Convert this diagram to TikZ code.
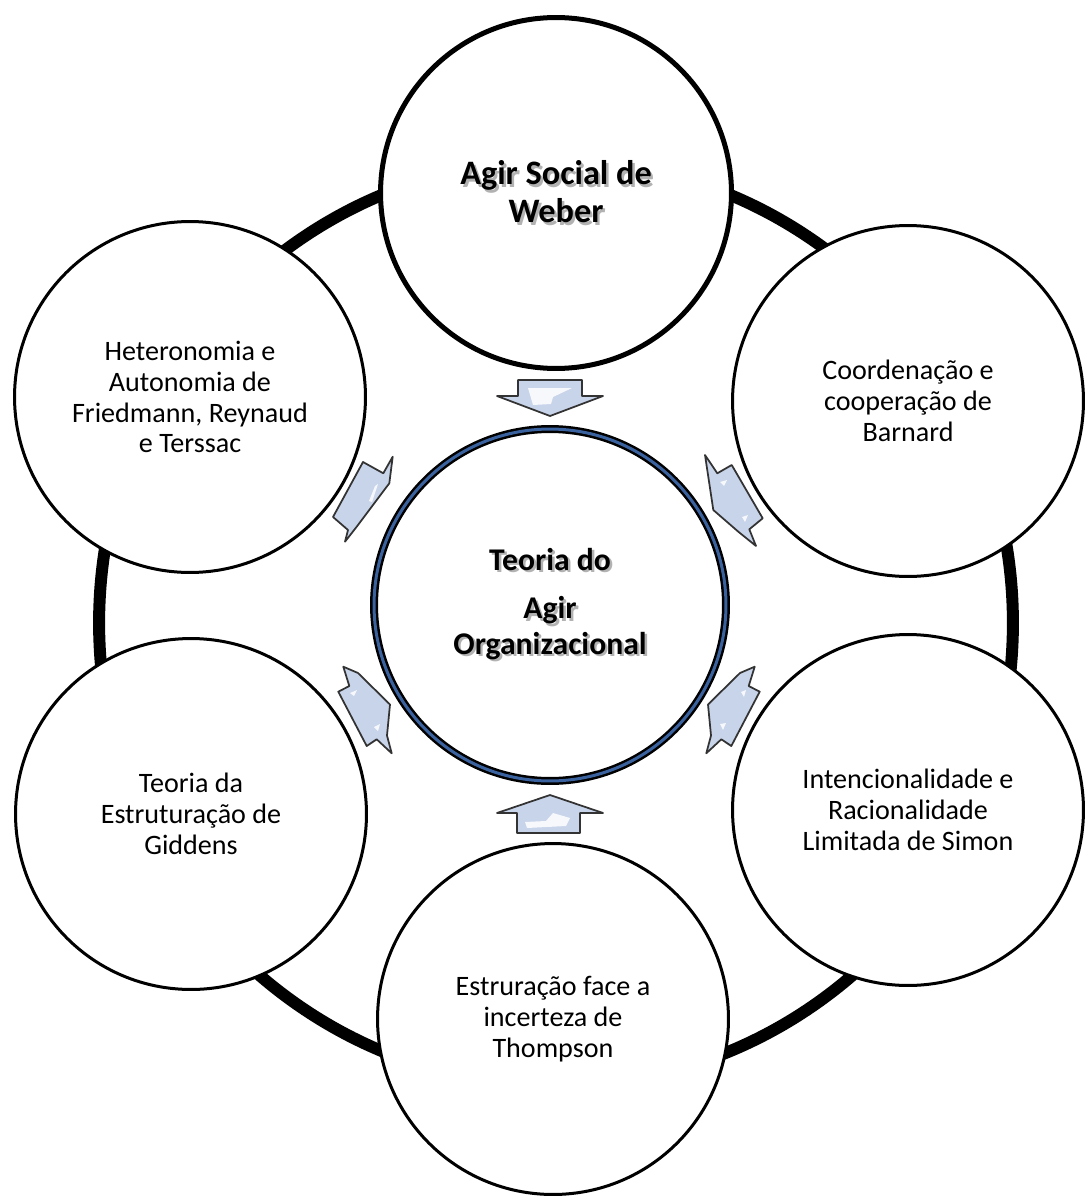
\documentclass[tikz,border=0pt]{standalone}
\usepackage{fontspec}
\setmainfont{Carlito}
\definecolor{arrowblue}{RGB}{200,212,234}
\definecolor{rimblue}{RGB}{58,98,158}
\tikzset{
  theory/.style={circle, draw=black, line width=0.06cm, fill=white,
    minimum size=7.02cm, inner sep=0pt, align=center,
    font=\fontsize{16}{17.6}\selectfont},
  flowarrow/.style={draw=black!80, line width=0.035cm, fill=arrowblue,
    line join=round},
  gloss/.style={fill=white, draw=none, opacity=0.85},
}
\newcommand{\shadowtext}[1]{\rlap{\hspace{1.4pt}\raisebox{-1.4pt}{\textcolor{black!30}{#1}}}#1}
\begin{document}
\begin{tikzpicture}[x=0.02cm, y=-0.02cm]
\useasboundingbox (0,0) rectangle (1085,1196);

% Drawing the outer ring
\draw [line width=0.24cm] (556,623) ellipse [x radius=9.14cm, y radius=9.26cm];

% Marking the six authors
\node [theory, line width=0.1cm, font=\fontsize{19.5}{21.5}\selectfont\bfseries]
  (weber) at (556,193) {\shadowtext{Agir Social de}\\\shadowtext{Weber}};
\node [theory] (barnard) at (908,401) {Coordenação e\\cooperação de\\Barnard};
\node [theory] (simon) at (908,810) {Intencionalidade e\\Racionalidade\\Limitada de Simon};
\node [theory] (thompson) at (553,1019) {Estruração face a\\incerteza de\\Thompson};
\node [theory] (giddens) at (191,814) {Teoria da\\Estruturação de\\Giddens};
\node [theory] (friedmann) at (190,397) {Heteronomia e\\Autonomia de\\Friedmann, Reynaud\\e Terssac};

% Marking the centre
\node [theory, minimum size=7.04cm, line width=0.05cm, double=rimblue,
  double distance=0.06cm, font=\fontsize{18}{20}\selectfont\bfseries]
  (agir) at (550,605) {\shadowtext{Teoria do}\\[0.27cm]\shadowtext{Agir}\\\shadowtext{Organizacional}};

% Drawing arrow from top
\draw [flowarrow] (518,380) -- (582,380) -- (582,396) -- (603,396) -- (550,416)
  -- (497,396) -- (518,396) -- cycle;
\fill [gloss] (528,388) -- (572,388) -- (553,397) -- (551,404) -- (533,405) -- cycle;

% Drawing arrow from bottom
\draw [flowarrow] (550,795) -- (603,813) -- (580,813) -- (580,833) -- (517,833)
  -- (517,813) -- (497,813) -- cycle;
\fill [gloss] (525,822) -- (546,821) -- (553,813) -- (570,818) -- (566,826) -- (527,828) -- cycle;

% Drawing arrow from upper left
\draw [flowarrow] (392.7,456.7) -- (389.3,483.3) -- (356.7,526.7) -- (345,541.7)
  -- (348,530) -- (333,517) -- (363,462) -- (383.3,473.3) -- cycle;
\fill [gloss] (375,486) -- (378,484) -- (372,502) -- (369,501) -- cycle;

% Drawing arrow from upper right
\draw [flowarrow] (705,455) -- (717.3,473.3) -- (731.7,465) -- (762.7,518.3)
  -- (749.3,529.3) -- (756,546) -- (738.3,531.7) -- (713.3,510) -- cycle;
\fill [gloss] (720,482) -- (727,480) -- (724,486) -- cycle;
\fill [gloss] (742,517) -- (748,515) -- (745,522) -- cycle;

% Drawing arrow from lower left
\draw [flowarrow] (343.3,666.7) -- (358,673) -- (390,704.5) -- (387,735.5)
  -- (391.7,753.3) -- (376.7,739.3) -- (366.7,746) -- (338.3,691.7)
  -- (349.3,686) -- cycle;
\fill [gloss] (350,693) -- (357,690) -- (354,696) -- cycle;
\fill [gloss] (374,727) -- (380,724) -- (378,731) -- cycle;

% Drawing arrow from lower right
\draw [flowarrow] (754.7,666.7) -- (740,673) -- (708,704.5) -- (711,735.5)
  -- (706.3,753.3) -- (721.3,739.3) -- (731.3,746) -- (759.7,691.7)
  -- (748.7,686) -- cycle;
\fill [gloss] (741,692) -- (746,690) -- (744,697) -- cycle;
\fill [gloss] (720,724) -- (726,723) -- (723,730) -- cycle;
\end{tikzpicture}
\end{document}
